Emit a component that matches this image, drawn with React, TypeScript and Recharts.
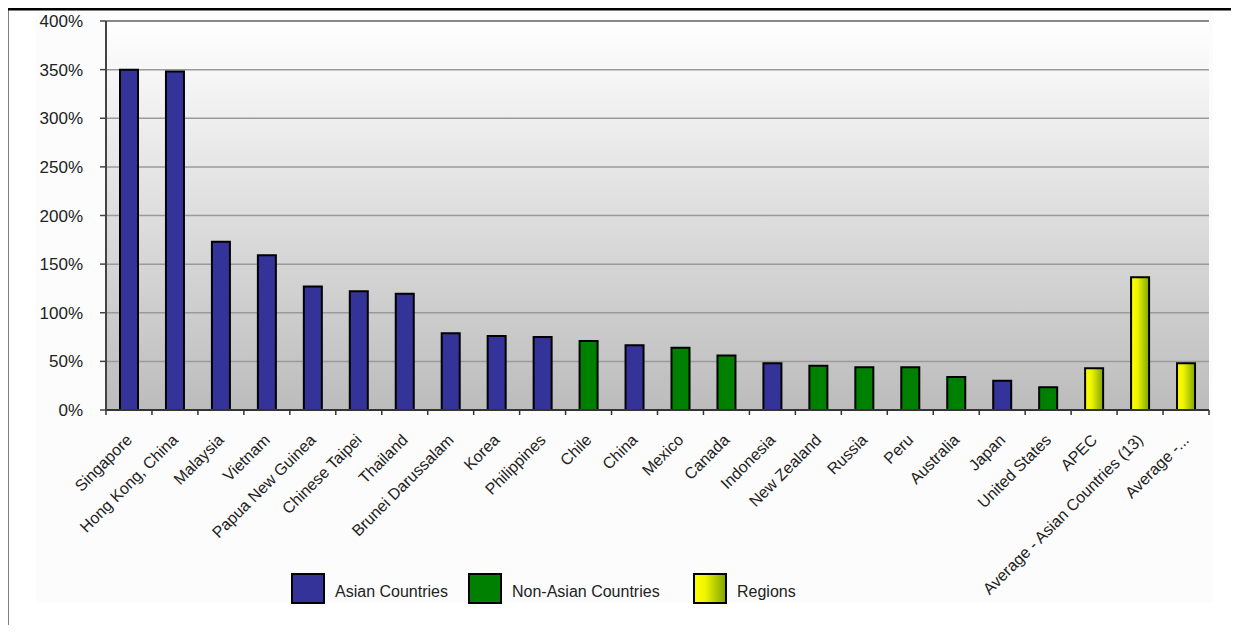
import React from "react";
import {
  BarChart,
  Bar,
  Cell,
  XAxis,
  YAxis,
  CartesianGrid,
  ReferenceLine,
} from "recharts";

const categories = [
  "Singapore",
  "Hong Kong, China",
  "Malaysia",
  "Vietnam",
  "Papua New Guinea",
  "Chinese Taipei",
  "Thailand",
  "Brunei Darussalam",
  "Korea",
  "Philippines",
  "Chile",
  "China",
  "Mexico",
  "Canada",
  "Indonesia",
  "New Zealand",
  "Russia",
  "Peru",
  "Australia",
  "Japan",
  "United States",
  "APEC",
  "Average - Asian Countries (13)",
  "Average -...",
];

const values = [
  350, 348, 173, 159, 127, 122, 119.5, 79, 76, 75, 71, 66.5, 64, 56, 48, 45.5,
  44, 44, 34, 30, 23.5, 43, 136.5, 48,
];

const groups = [
  "asian", "asian", "asian", "asian", "asian", "asian", "asian", "asian",
  "asian", "asian", "nonAsian", "asian", "nonAsian", "nonAsian", "asian",
  "nonAsian", "nonAsian", "nonAsian", "nonAsian", "asian", "nonAsian",
  "regions", "regions", "regions",
];

const yTicks = [0, 50, 100, 150, 200, 250, 300, 350, 400];

const legendItems = [
  { key: "asian", label: "Asian Countries" },
  { key: "nonAsian", label: "Non-Asian Countries" },
  { key: "regions", label: "Regions" },
];

const FILLS: Record<string, string> = {
  asian: "#333399",
  nonAsian: "#008000",
  regions: "url(#regionFill)",
};
const LEGEND_BG: Record<string, string> = {
  asian: "#333399",
  nonAsian: "#008000",
  regions: "linear-gradient(to right, #ffff00 0%, #eef400 35%, #80a800 100%)",
};
const LEGEND_LEFT = [291, 468, 693];

const FONT = "'Liberation Sans', Arial, sans-serif";

const data = categories.map((name, i) => ({
  name,
  value: values[i],
  group: groups[i],
  pos: i + 0.5,
}));

// category boundaries get a tick mark, centres get the label
const xTicks = categories
  .flatMap((_, i) => [i, i + 0.5])
  .concat(categories.length);

function BoundaryTick(props: any) {
  const { x, y, payload } = props;
  const v = payload.value as number;
  if (Number.isInteger(v)) {
    return <line x1={x} x2={x} y1={y} y2={y + 5} stroke="#333" strokeWidth={1.5} />;
  }
  const label = categories[Math.floor(v)];
  const ax = x + 4;
  const ay = y + 31;
  return (
    <text
      x={ax}
      y={ay}
      transform={`rotate(-45, ${ax}, ${ay})`}
      textAnchor="end"
      fontSize={16}
      fill="#222"
      fontFamily={FONT}
    >
      {label}
    </text>
  );
}

export default function App() {
  return (
    <div
      style={{
        position: "relative",
        width: 1239,
        height: 633,
        margin: -8,
        background: "#fff",
        fontFamily: FONT,
        overflow: "hidden",
      }}
    >
      <svg
        width={1239}
        height={633}
        style={{ position: "absolute", left: 0, top: 0 }}
      >
        <rect x={36} y={12} width={1177} height={591} fill="#fcfcfc" />
        <rect x={6} y={8} width={2.5} height={625} fill="#000" />
        <rect x={6} y={8} width={1233} height={2.5} fill="#000" />
      </svg>
      <div style={{ position: "absolute", left: 0, top: 0 }}>
        <BarChart
          width={1239}
          height={633}
          data={data}
          margin={{ top: 21, right: 30, bottom: 0, left: 0 }}
        >
          <defs>
            <linearGradient id="plotBg" x1="0" y1="0" x2="0" y2="1">
              <stop offset="0%" stopColor="#ffffff" />
              <stop offset="100%" stopColor="#bcbcbc" />
            </linearGradient>
            <linearGradient id="regionFill" x1="0" y1="0" x2="1" y2="0">
              <stop offset="0%" stopColor="#ffff00" />
              <stop offset="35%" stopColor="#eef400" />
              <stop offset="100%" stopColor="#80a800" />
            </linearGradient>
          </defs>
          <CartesianGrid
            xAxisId="cat"
            vertical={false}
            stroke="#9a9a9a"
            strokeWidth={1.5}
            fill="url(#plotBg)"
            fillOpacity={1}
          />
          <XAxis
            xAxisId="num"
            type="number"
            dataKey="pos"
            domain={[0, categories.length]}
            ticks={xTicks}
            interval={0}
            height={223}
            tickSize={0}
            tickMargin={0}
            tickLine={false}
            axisLine={{ stroke: "#333", strokeWidth: 2 }}
            tick={<BoundaryTick />}
          />
          <XAxis xAxisId="cat" dataKey="name" hide height={0} />
          <YAxis
            domain={[0, 400]}
            ticks={yTicks}
            interval={0}
            width={106}
            tickSize={6}
            tickMargin={17}
            tickFormatter={(v: number) => `${v}%`}
            tick={{ fontSize: 17, fill: "#222", fontFamily: FONT }}
            tickLine={{ stroke: "#444", strokeWidth: 1.5 }}
            axisLine={{ stroke: "#444", strokeWidth: 2 }}
          />
          <YAxis
            yAxisId="r"
            orientation="right"
            domain={[0, 400]}
            width={0}
            tick={false}
            tickLine={false}
            axisLine={{ stroke: "#888", strokeWidth: 2 }}
          />
          <ReferenceLine
            xAxisId="cat"
            y={400}
            stroke="#888"
            strokeWidth={2}
          />
          <Bar
            xAxisId="cat"
            dataKey="value"
            barSize={18}
            stroke="#000"
            strokeWidth={2}
            isAnimationActive={false}
          >
            {data.map((d, i) => (
              <Cell key={`c-${i}`} fill={FILLS[d.group]} />
            ))}
          </Bar>
        </BarChart>
      </div>
      {legendItems.map((item, i) => (
        <div
          key={item.key}
          style={{
            position: "absolute",
            left: LEGEND_LEFT[i],
            top: 573,
            display: "flex",
            alignItems: "center",
            height: 31,
          }}
        >
          <div
            style={{
              width: 30,
              height: 27,
              border: "2px solid #000",
              background: LEGEND_BG[item.key],
            }}
          />
          <span
            style={{
              marginLeft: 10,
              paddingTop: 6,
              fontSize: 16,
              color: "#222",
            }}
          >
            {item.label}
          </span>
        </div>
      ))}
    </div>
  );
}
